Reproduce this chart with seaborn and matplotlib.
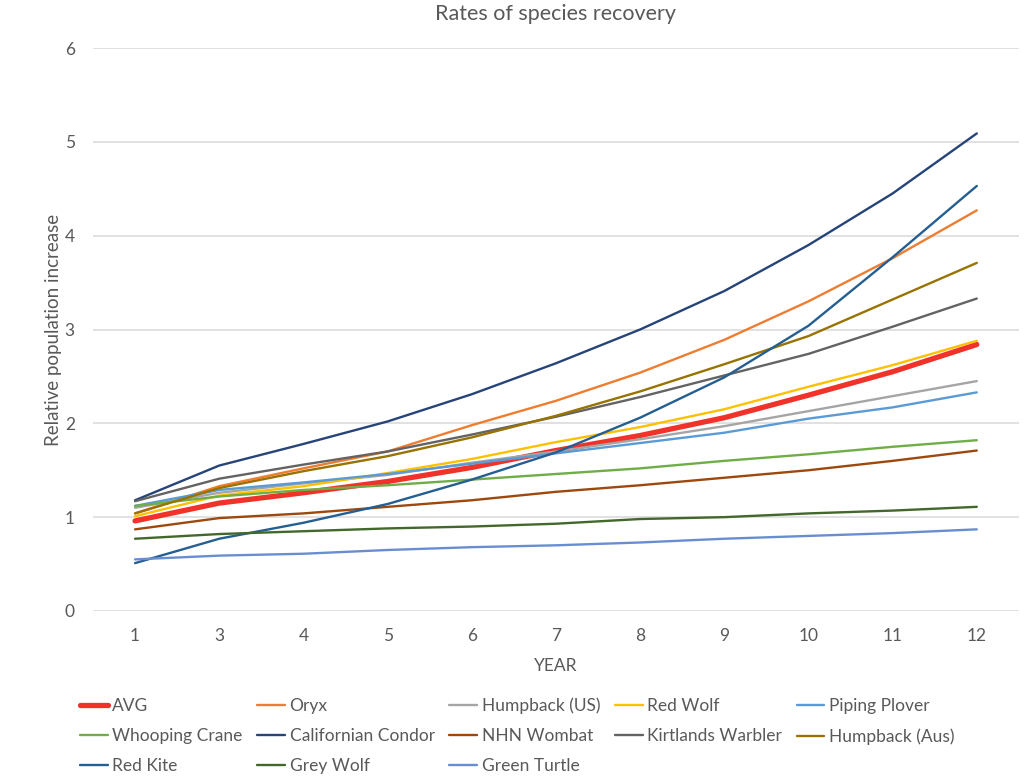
import pandas as pd
import matplotlib
matplotlib.use("Agg")
import matplotlib.pyplot as plt
import seaborn as sns

# -----------------------------
# Data
# -----------------------------
years = ["1", "3", "4", "5", "6", "7", "8", "9", "10", "11", "12"]

avg = [0.96, 1.15, 1.26, 1.38, 1.53, 1.71, 1.87, 2.06, 2.30, 2.55, 2.84]
oryx = [1.04, 1.33, 1.52, 1.70, 1.98, 2.24, 2.54, 2.89, 3.30, 3.76, 4.27]
humpback_us = [1.10, 1.26, 1.36, 1.45, 1.58, 1.70, 1.83, 1.97, 2.13, 2.29, 2.45]
red_wolf = [1.01, 1.23, 1.33, 1.47, 1.62, 1.80, 1.96, 2.15, 2.39, 2.62, 2.88]
piping_plover = [1.12, 1.29, 1.37, 1.46, 1.57, 1.68, 1.79, 1.90, 2.05, 2.17, 2.33]
whooping_crane = [1.12, 1.22, 1.29, 1.34, 1.40, 1.46, 1.52, 1.60, 1.67, 1.75, 1.82]
condor = [1.18, 1.55, 1.78, 2.02, 2.31, 2.64, 3.00, 3.41, 3.90, 4.45, 5.09]
wombat = [0.87, 0.99, 1.04, 1.11, 1.18, 1.27, 1.34, 1.42, 1.50, 1.60, 1.71]
kirtlands = [1.17, 1.41, 1.56, 1.70, 1.88, 2.07, 2.28, 2.51, 2.74, 3.03, 3.33]
humpback_aus = [1.04, 1.31, 1.49, 1.65, 1.85, 2.08, 2.34, 2.63, 2.93, 3.32, 3.71]
red_kite = [0.51, 0.77, 0.94, 1.14, 1.40, 1.69, 2.06, 2.49, 3.04, 3.77, 4.53]
grey_wolf = [0.77, 0.82, 0.85, 0.88, 0.90, 0.93, 0.98, 1.00, 1.04, 1.07, 1.11]
green_turtle = [0.55, 0.59, 0.61, 0.65, 0.68, 0.70, 0.73, 0.77, 0.80, 0.83, 0.87]

series = [
    ("AVG", avg, "#F0322A", 3.8),
    ("Oryx", oryx, "#ED7D31", 1.7),
    ("Humpback (US)", humpback_us, "#A5A5A5", 1.7),
    ("Red Wolf", red_wolf, "#FFC000", 1.7),
    ("Piping Plover", piping_plover, "#5B9BD5", 1.7),
    ("Whooping Crane", whooping_crane, "#70AD47", 1.7),
    ("Californian Condor", condor, "#264478", 1.7),
    ("NHN Wombat", wombat, "#9E480E", 1.7),
    ("Kirtlands Warbler", kirtlands, "#636363", 1.7),
    ("Humpback (Aus)", humpback_aus, "#997300", 1.7),
    ("Red Kite", red_kite, "#255E91", 1.7),
    ("Grey Wolf", grey_wolf, "#43682B", 1.7),
    ("Green Turtle", green_turtle, "#698ED0", 1.7),
]

# -----------------------------
# Style
# -----------------------------
sns.set_style("white")
plt.rcParams["font.family"] = ["Lato", "DejaVu Sans"]
text_col = "#595959"

fig = plt.figure(figsize=(10.24, 7.81), dpi=100)
ax = fig.add_axes([0.0908, 0.2177, 0.9042, 0.7208])

pos = list(range(len(years)))
for name, vals, col, lw in series:
    sns.lineplot(x=pos, y=vals, color=col, linewidth=lw, label=name,
                 ax=ax, legend=False)

ax.set_xlim(-0.5, len(years) - 0.5)
ax.set_ylim(0, 6)
ax.set_xticks(pos)
ax.set_xticklabels(years)
ax.set_yticks(range(0, 7))
ax.yaxis.grid(True, color="#D9D9D9", linewidth=1.1)
ax.set_axisbelow(True)
for s in ax.spines.values():
    s.set_visible(False)
ax.tick_params(axis="both", length=0, labelsize=12.5, labelcolor=text_col)
ax.tick_params(axis="y", pad=13)
ax.tick_params(axis="x", pad=12)

ax.set_xlabel("YEAR", fontsize=12.5, color=text_col, labelpad=10)
ax.set_ylabel("Relative population increase", fontsize=13.5, color=text_col, labelpad=2)
ax.set_title("Rates of species recovery", fontsize=15.5, color=text_col, pad=20)

# legend: Excel fills rows, matplotlib fills columns -> reorder
handles, labels = ax.get_legend_handles_labels()
order = [0, 5, 10, 1, 6, 11, 2, 7, 12, 3, 8, 4, 9]
fig.legend([handles[i] for i in order], [labels[i] for i in order],
           ncol=5, loc="upper left", bbox_to_anchor=(0.063, 0.127),
           frameon=False, fontsize=12.5, handlelength=1.6, handletextpad=0.25,
           columnspacing=0.85, labelspacing=0.82, labelcolor=text_col)

fig.savefig("out.png", dpi=100)
